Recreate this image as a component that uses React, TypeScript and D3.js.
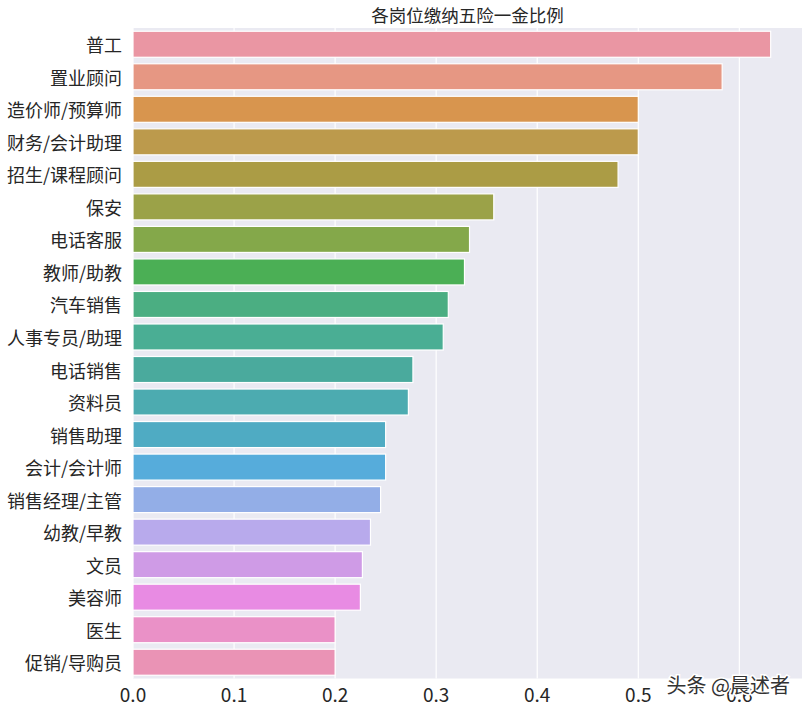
import React from "react";
import * as d3 from "d3";

const categories = [
  "普工", "置业顾问", "造价师/预算师", "财务/会计助理", "招生/课程顾问", "保安", "电话客服",
  "教师/助教", "汽车销售", "人事专员/助理", "电话销售", "资料员", "销售助理", "会计/会计师",
  "销售经理/主管", "幼教/早教", "文员", "美容师", "医生", "促销/导购员",
];
const values = [
  0.631, 0.583, 0.5, 0.5, 0.48, 0.357, 0.333, 0.328, 0.312, 0.307, 0.277, 0.2725, 0.25, 0.25,
  0.245, 0.235, 0.227, 0.225, 0.2, 0.2,
];
const colors = [
  "#EA96A3", "#E69783", "#D8954E", "#BC9A4C", "#AB9C45", "#9BA248", "#84A84A", "#4BAF55",
  "#4BAE82", "#4AAE94", "#4AAA9D", "#4CABB0", "#4FABC3", "#56ACDB", "#93AEE7", "#B8AAEC",
  "#CF9BE6", "#E88BE3", "#EA91C7", "#EA93B5",
];
const xTicks = [0, 0.1, 0.2, 0.3, 0.4, 0.5, 0.6];
const title = "各岗位缴纳五险一金比例";
const watermark = "头条 @晨述者";

const W = 809, H = 714;
const left = 133, right = 802, top = 28, bottom = 678.5;
const FONT = "'Noto Sans CJK SC', 'Noto Sans', sans-serif";

export default function App() {
  const x = d3.scaleLinear().domain([0, 0.662]).range([left, right]);
  const y = d3.scaleBand().domain(categories).range([top, bottom]).paddingInner(0.2).paddingOuter(0.1);
  return (
    <svg width={W} height={H} style={{ position: "absolute", left: 0, top: 0 }} fontFamily={FONT}>
      <rect x={0} y={0} width={W} height={H} fill="#fff" />
      <rect x={left} y={top} width={right - left} height={bottom - top} fill="#EAEAF2" />
      {xTicks.map((t) => (
        <line key={t} x1={x(t)} x2={x(t)} y1={top} y2={bottom} stroke="#fff" strokeWidth={1.2} />
      ))}
      {categories.map((c, i) => (
        <rect
          key={c}
          x={x(0)}
          y={y(c)!}
          width={x(values[i]) - x(0)}
          height={y.bandwidth()}
          fill={colors[i]}
          stroke="#fff"
          strokeWidth={1.2}
        />
      ))}
      {categories.map((c) => (
        <text
          key={c}
          x={left - 11}
          y={y(c)! + y.bandwidth() / 2}
          textAnchor="end"
          dominantBaseline="central"
          fontSize={18}
          fill="#262626"
        >
          {c}
        </text>
      ))}
      {xTicks.map((t) => (
        <text key={t} x={x(t)} y={702} textAnchor="middle" fontSize={19} fill="#262626">
          {d3.format(".1f")(t)}
        </text>
      ))}
      <text x={(left + right) / 2} y={22} textAnchor="middle" fontSize={17.5} fill="#262626">
        {title}
      </text>
      <text
        x={790}
        y={693}
        textAnchor="end"
        fontSize={20}
        fill="#333"
        stroke="#fff"
        strokeWidth={3}
        paintOrder="stroke"
      >
        {watermark}
      </text>
    </svg>
  );
}
